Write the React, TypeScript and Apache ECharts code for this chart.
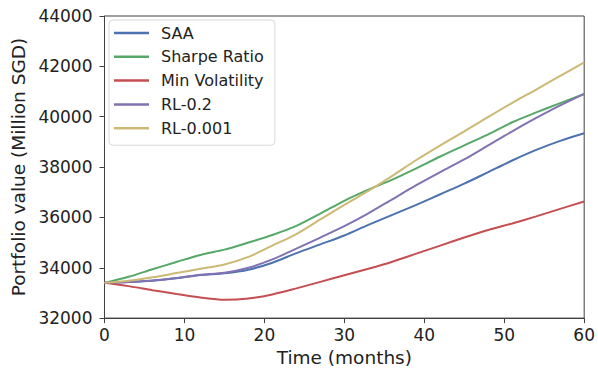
import React, { useEffect, useRef } from "react";
import * as echarts from "echarts";

const months = [0, 3, 6, 9, 12, 15, 18, 21, 24, 27, 30, 33, 36, 39, 42, 45, 48, 51, 54, 57, 60];

const saa = [33400, 33430, 33480, 33580, 33710, 33780, 33920, 34200, 34580, 34930, 35280, 35700, 36100, 36500, 36920, 37340, 37800, 38260, 38680, 39040, 39340];
const sharpe = [33400, 33640, 33940, 34230, 34510, 34720, 35000, 35300, 35660, 36150, 36660, 37100, 37500, 37950, 38420, 38860, 39300, 39780, 40170, 40540, 40900];
const minVol = [33400, 33270, 33110, 32960, 32820, 32730, 32780, 32940, 33180, 33440, 33700, 33960, 34240, 34560, 34880, 35200, 35500, 35760, 36040, 36340, 36630];
const rl02 = [33400, 33430, 33490, 33590, 33720, 33800, 34000, 34330, 34760, 35200, 35650, 36160, 36720, 37280, 37800, 38300, 38860, 39420, 39950, 40450, 40910];
const rl0001 = [33400, 33480, 33620, 33790, 33960, 34130, 34430, 34880, 35340, 35920, 36500, 37050, 37650, 38280, 38860, 39420, 39990, 40550, 41080, 41620, 42160];

const seriesNames = ["SAA", "Sharpe Ratio", "Min Volatility", "RL-0.2", "RL-0.001"];
const seriesData = [saa, sharpe, minVol, rl02, rl0001];
const colors = ["#4C72B0", "#55A868", "#C44E52", "#8172B2", "#CCB974"];

export default function App() {
  const ref = useRef<HTMLDivElement>(null);
  useEffect(() => {
    if (!ref.current) return;
    const chart = echarts.init(ref.current, undefined, { renderer: "svg" });
    const font = "DejaVu Sans";
    chart.setOption({
      animation: false,
      backgroundColor: "#ffffff",
      grid: {
        left: 104.5,
        right: 11,
        top: 16,
        bottom: 52,
        show: true,
        borderColor: "#404040",
        borderWidth: 1,
      },
      legend: {
        orient: "vertical",
        left: 109,
        top: 20,
        icon: "rect",
        itemWidth: 35,
        itemHeight: 2.5,
        itemGap: 5.8,
        padding: [4, 11, 8, 5],
        backgroundColor: "#ffffff",
        borderColor: "#d8d8d8",
        borderWidth: 1,
        borderRadius: 4,
        textStyle: { fontFamily: font, fontSize: 16, color: "#222", lineHeight: 18, padding: [0, 0, 0, 7] },
        data: seriesNames,
      },
      xAxis: {
        type: "value",
        min: 0,
        max: 60,
        interval: 10,
        name: "Time (months)",
        nameLocation: "middle",
        nameGap: 28,
        nameTextStyle: { fontFamily: font, fontSize: 18.5, color: "#222" },
        axisLine: { show: true, lineStyle: { color: "#404040", width: 1 } },
        axisTick: { show: true, length: 5, lineStyle: { color: "#404040" } },
        axisLabel: { fontFamily: font, fontSize: 17, color: "#222", margin: 8, formatter: (v: number) => String(v) },
        splitLine: { show: false },
      },
      yAxis: {
        type: "value",
        min: 32000,
        max: 44000,
        interval: 2000,
        name: "Portfolio value (Million SGD)",
        nameLocation: "middle",
        nameGap: 70,
        nameTextStyle: { fontFamily: font, fontSize: 18.5, color: "#222" },
        axisLine: { show: true, lineStyle: { color: "#404040", width: 1 } },
        axisTick: { show: true, length: 5, lineStyle: { color: "#404040" } },
        axisLabel: { fontFamily: font, fontSize: 17, color: "#222", margin: 12, formatter: (v: number) => String(v) },
        splitLine: { show: false },
      },
      series: seriesNames.map((name, i) => ({
        name,
        type: "line",
        data: months.map((m, j) => [m, seriesData[i][j]]),
        smooth: 0.3,
        symbol: "none",
        color: colors[i],
        lineStyle: { color: colors[i], width: 2 },
      })),
    });
    return () => chart.dispose();
  }, []);
  return (
    <div
      ref={ref}
      style={{ position: "fixed", left: 0, top: 0, width: 598, height: 372, background: "#fff" }}
    />
  );
}
